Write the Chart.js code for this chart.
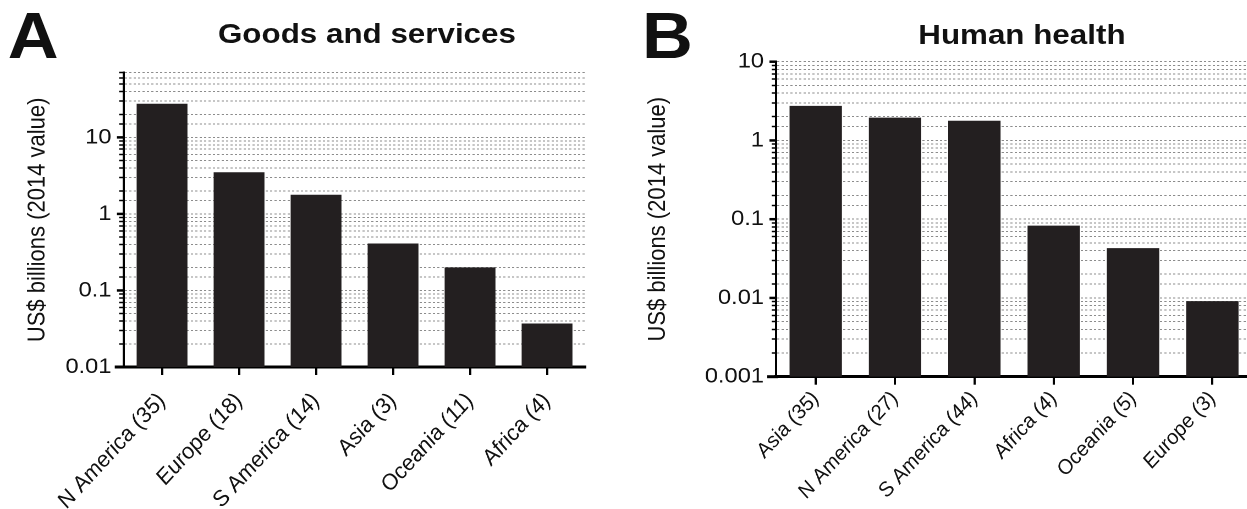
<!DOCTYPE html>
<html>
<head>
<meta charset="utf-8">
<script src="https://cdn.jsdelivr.net/npm/chart.js@4/dist/chart.umd.min.js"></script>
<style>
  html, body { margin:0; padding:0; background:#fff; overflow:hidden; width:1247px; height:509px; }
  #wrap { position:absolute; left:0; top:0; width:1160px; height:509px; transform:scaleX(1.1); transform-origin:0 0; font-family:"Liberation Sans", Arial, sans-serif; color:#111; }
  .letter { position:absolute; font-weight:bold; font-size:64px; line-height:1; }
  .title { position:absolute; font-weight:bold; font-size:28.5px; line-height:1; white-space:nowrap; transform:translateX(-50%); }
  canvas { position:absolute; top:0; }
</style>
</head>
<body>
<div id="wrap">
  <div class="letter" style="left:7px; top:4px;">A</div>
  <div class="title" style="left:333.6px; top:19px;">Goods and services</div>
  <div class="letter" style="left:583.6px; top:4px;">B</div>
  <div class="title" style="left:929px; top:20px;">Human health</div>
  <canvas id="cA" style="left:0px; width:545px; height:509px;"></canvas>
  <canvas id="cB" style="left:560px; width:600px; height:509px;"></canvas>
</div>
<script>
// ---- Data ----
const categoriesA = ['N America (35)', 'Europe (18)', 'S America (14)', 'Asia (3)', 'Oceania (11)', 'Africa (4)'];
const valuesA = [27.5, 3.5, 1.78, 0.41, 0.2, 0.037];
const tickLabelsA = ['0.01', '0.1', '1', '10'];

const categoriesB = ['Asia (35)', 'N America (27)', 'S America (44)', 'Africa (4)', 'Oceania (5)', 'Europe (3)'];
const valuesB = [2.75, 1.95, 1.78, 0.083, 0.043, 0.0091];
const tickLabelsB = ['0.001', '0.01', '0.1', '1', '10'];

const yTitle = 'US$ billions (2014 value)';
const FONT = '"Liberation Sans", Arial, sans-serif';

const axisPlugin = {
  id: 'axisExtras',
  afterDraw(chart) {
    const ctx = chart.ctx, a = chart.chartArea, y = chart.scales.y;
    ctx.save();
    ctx.strokeStyle = '#000';
    // x-axis line extends slightly left of the y axis
    ctx.lineWidth = 3;
    ctx.beginPath(); ctx.moveTo(a.left - 8, a.bottom); ctx.lineTo(a.left + 2, a.bottom); ctx.stroke();
    // longer major ticks at powers of ten
    ctx.lineWidth = 2.5;
    y.ticks.forEach(t => {
      const l = Math.log10(t.value);
      if (Math.abs(l - Math.round(l)) < 1e-6) {
        const py = y.getPixelForValue(t.value);
        ctx.beginPath(); ctx.moveTo(a.left - 6, py); ctx.lineTo(a.left, py); ctx.stroke();
      }
    });
    ctx.restore();
  }
};

function makeChart(id, cats, vals, yMin, yMax, labels, g) {
  const canvas = document.getElementById(id);
  canvas.width = g.W; canvas.height = 509;
  return new Chart(canvas, {
    type: 'bar',
    data: { labels: cats, datasets: [{ data: vals, backgroundColor: '#231f20', borderWidth: 0, barPercentage: 0.66, categoryPercentage: 1.0 }] },
    options: {
      responsive: false, animation: false, events: [], devicePixelRatio: 2,
      layout: { padding: { left: 0, right: g.W - g.right, top: g.top, bottom: 0 } },
      plugins: { legend: { display: false }, tooltip: { enabled: false }, title: { display: false } },
      scales: {
        x: {
          type: 'category', offset: true,
          afterFit(s) { s.height = 509 - g.bottom; },
          border: { display: true, color: '#000', width: 3 },
          grid: { drawOnChartArea: false, offset: false, drawTicks: true, tickLength: 8, tickColor: '#000', tickWidth: 2, tickBorderDash: [] },
          ticks: { autoSkip: false, minRotation: 50, maxRotation: 50, padding: g.xPad, color: '#111', font: { family: FONT, size: g.xFont, style: 'italic' } }
        },
        y: {
          type: 'logarithmic', min: yMin, max: yMax,
          afterFit(s) { s.width = g.left; },
          border: { display: true, color: '#000', width: 2, dash: [2, 2] },
          grid: { color: 'rgba(0,0,0,0.45)', lineWidth: 1, drawTicks: true, tickLength: 4, tickColor: '#000', tickWidth: 1.5, tickBorderDash: [] },
          ticks: {
            autoSkip: false, padding: 7, color: '#111', font: { family: FONT, size: 21.5 },
            callback(v) {
              const l = Math.log10(v);
              if (Math.abs(l - Math.round(l)) > 1e-6) return '';
              const i = Math.round(l) - Math.round(Math.log10(yMin));
              return labels[i] !== undefined ? labels[i] : '';
            }
          },
          title: { display: true, text: yTitle, color: '#111', font: { family: FONT, size: 22 }, padding: { top: g.titlePad, bottom: 0 } }
        }
      }
    },
    plugins: [axisPlugin]
  });
}

makeChart('cA', categoriesA, valuesA, 0.01, 70, tickLabelsA,
  { W: 545, left: 112.3, right: 532.3, top: 72.7, bottom: 367, titlePad: 21, xFont: 21, xPad: 14 });
makeChart('cB', categoriesB, valuesB, 0.001, 10, tickLabelsB,
  { W: 600, left: 145.5, right: 578.2, top: 61.7, bottom: 376.7, titlePad: 25, xFont: 19.5, xPad: 3 });
</script>
</body>
</html>
